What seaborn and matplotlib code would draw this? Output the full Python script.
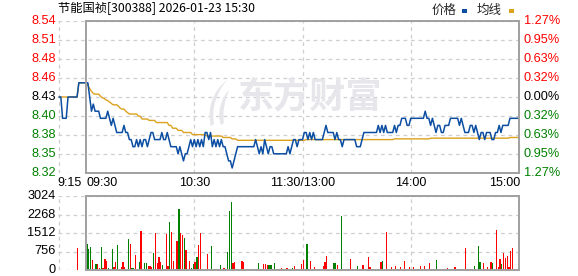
import matplotlib
matplotlib.use("Agg")
import matplotlib.pyplot as plt
from matplotlib.patches import Rectangle, PathPatch
from matplotlib.path import Path
import seaborn as sns
import numpy as np
import pandas as pd

# ---------------- data ----------------
title = "节能国祯[300388] 2026-01-23 15:30"
legend_labels = ["价格", "均线"]
base_price = 8.43
price_tick_labels = ["8.54", "8.51", "8.48", "8.46", "8.43", "8.40", "8.38", "8.35", "8.32"]
pct_tick_labels = ["1.27%", "0.95%", "0.63%", "0.32%", "0.00%", "0.32%", "0.63%", "0.95%", "1.27%"]
pct_range = 0.0127
vol_ticks = [3024, 2268, 1512, 756, 0]
time_labels = ["9:15", "09:30", "10:30", "11:30/13:00", "14:00", "15:00"]
time_minutes = [-15.56, 0, 60, 120, 180, 240]

# pre-market minutes 9:15 .. 9:29
pre_minutes = list(range(-15, 0))
pre_price = [8.43, 8.43, 8.40, 8.40, 8.40, 8.43, 8.43, 8.43, 8.43, 8.43, 8.43, 8.45, 8.45, 8.45, 8.45]
pre_avg = [8.43, 8.43, 8.43, 8.43, 8.43, 8.43, 8.43, 8.43, 8.43, 8.43, 8.43, 8.45, 8.45, 8.45, 8.45]
pre_vol_minute = [-5]
pre_vol = [885]
pre_vol_dir = "r"

# trading minutes 0..240 (09:30 .. 11:30 / 13:00 .. 15:00)
price = [
    8.45, 8.45, 8.43, 8.41, 8.42, 8.41, 8.41, 8.41, 8.40, 8.40,
    8.40, 8.40, 8.41, 8.40, 8.39, 8.40, 8.39, 8.38, 8.38, 8.38,
    8.38, 8.39, 8.38, 8.38, 8.37, 8.37, 8.36, 8.36, 8.37, 8.36,
    8.37, 8.36, 8.37, 8.37, 8.36, 8.37, 8.38, 8.38, 8.37, 8.37,
    8.37, 8.37, 8.38, 8.37, 8.37, 8.38, 8.37, 8.36, 8.36, 8.36,
    8.36, 8.35, 8.36, 8.35, 8.34, 8.35, 8.35, 8.36, 8.37, 8.36,
    8.37, 8.36, 8.37, 8.36, 8.37, 8.36, 8.38, 8.38, 8.37, 8.38,
    8.36, 8.37, 8.36, 8.37, 8.36, 8.37, 8.36, 8.36, 8.35, 8.34,
    8.34, 8.33, 8.34, 8.35, 8.36, 8.36, 8.36, 8.36, 8.36, 8.36,
    8.36, 8.36, 8.36, 8.36, 8.37, 8.36, 8.35, 8.36, 8.35, 8.37,
    8.36, 8.35, 8.36, 8.36, 8.35, 8.35, 8.35, 8.35, 8.35, 8.35,
    8.35, 8.35, 8.36, 8.35, 8.36, 8.37, 8.37, 8.36, 8.37, 8.37,
    8.37, 8.38, 8.38, 8.37, 8.38, 8.37, 8.38, 8.37, 8.37, 8.37,
    8.37, 8.37, 8.38, 8.39, 8.38, 8.38, 8.38, 8.38, 8.37, 8.38,
    8.37, 8.37, 8.36, 8.37, 8.37, 8.37, 8.37, 8.37, 8.37, 8.37,
    8.36, 8.36, 8.36, 8.37, 8.38, 8.38, 8.38, 8.38, 8.38, 8.38,
    8.38, 8.38, 8.39, 8.38, 8.39, 8.38, 8.39, 8.38, 8.38, 8.38,
    8.38, 8.39, 8.38, 8.39, 8.39, 8.40, 8.40, 8.40, 8.39, 8.39,
    8.40, 8.40, 8.40, 8.40, 8.40, 8.40, 8.40, 8.40, 8.41, 8.40,
    8.40, 8.39, 8.40, 8.39, 8.38, 8.39, 8.39, 8.38, 8.38, 8.39,
    8.39, 8.39, 8.40, 8.40, 8.40, 8.40, 8.40, 8.39, 8.40, 8.39,
    8.38, 8.38, 8.38, 8.39, 8.39, 8.38, 8.39, 8.38, 8.37, 8.38,
    8.38, 8.37, 8.38, 8.38, 8.38, 8.37, 8.37, 8.38, 8.38, 8.39,
    8.38, 8.39, 8.39, 8.39, 8.39, 8.40, 8.40, 8.40, 8.40, 8.40,
    8.40,
]
avg = ([
    8.450, 8.446, 8.442, 8.438, 8.435, 8.434, 8.434, 8.434, 8.431, 8.429,
    8.428, 8.426, 8.425, 8.423, 8.421, 8.419, 8.419, 8.419, 8.417, 8.414,
    8.413, 8.413, 8.410, 8.408, 8.406, 8.406, 8.406, 8.406, 8.406, 8.403,
    8.403, 8.399, 8.399, 8.399, 8.399, 8.397, 8.397, 8.397, 8.397, 8.394,
    8.394, 8.394, 8.394, 8.394, 8.394, 8.394, 8.390, 8.390, 8.386, 8.386,
    8.386, 8.383, 8.383, 8.383, 8.380, 8.380, 8.380, 8.380, 8.380, 8.377,
    8.377, 8.377, 8.377, 8.377, 8.377, 8.377, 8.377, 8.375, 8.375, 8.375,
    8.375, 8.375, 8.375, 8.375, 8.375, 8.375, 8.373, 8.373, 8.373, 8.373,
    8.373, 8.371, 8.371, 8.371,
] + [8.369] * 38 + [8.370] * 49 + [8.371] * 20 + [8.372] * 44 + [8.373] * 6)

volume = [
    1062, 845, 926, 409, 60, 245, 245, 68, 926, 100,
    450, 368, 80, 60, 845, 109, 340, 1021, 60, 120,
    313, 120, 60, 1267, 1062, 80, 80, 600, 60, 327,
    1594, 40, 286, 286, 163, 163, 130, 695, 1526, 272,
    545, 327, 204, 40, 1471, 163, 1975, 1553, 381, 40,
    1199, 2506, 1526, 1430, 1321, 817, 40, 368, 80, 231,
    340, 517, 1021, 1526, 60, 40, 40, 654, 60, 980,
    60, 40, 60, 60, 200, 60, 80, 60, 735, 2410,
    2779, 300, 340, 60, 60, 60, 368, 313, 60, 60,
    40, 40, 40, 60, 60, 272, 60, 60, 245, 230,
    200, 200, 200, 60, 300, 60, 60, 60, 100, 60,
    60, 100, 60, 60, 100, 163, 60, 40, 60, 245,
    409, 60, 1062, 60, 368, 60, 110, 40, 40, 40,
    40, 163, 340, 572, 40, 60, 40, 286, 286, 200,
    60, 2206, 60, 60, 40, 60, 450, 60, 60, 40,
    163, 40, 60, 200, 40, 40, 531, 130, 40, 40,
    40, 60, 40, 340, 368, 60, 1553, 40, 60, 130,
    40, 163, 40, 60, 110, 40, 368, 40, 60, 110,
    40, 110, 40, 40, 60, 163, 40, 163, 40, 60,
    286, 60, 60, 40, 409, 60, 60, 40, 60, 60,
    68, 40, 40, 60, 110, 40, 40, 60, 40, 60,
    899, 40, 40, 60, 60, 163, 40, 980, 327, 40,
    286, 40, 110, 40, 327, 286, 40, 1634, 110, 450,
    245, 695, 490, 572, 110, 776, 899, 40, 40, 60,
    531,
]
volume_dir = ("gggrrgrrgr" "rrgggrrgrr" "rrrgrggrrg" "rrggrrrgrr" "rrggrrgrrg"
              "rgrrgrrrgg" "rgrrrrrrrg" "rrrrgrrrgg" "grrrrrrrrr" "rrrrrgrrrr"
              "rggrgrrrrr" "rrrrgrrrrr" "rggrrrrrrr" "rrrrrrrggr" "rgrrrrrrrr"
              "grrrrrrrrr" "rrrrgrrrrr" "rrrrrrrrrr" "rrrrrrrrrr" "rrrrgrrrrr"
              "rrrrrrrrrr" "rrrrrgrggr" "rrrrrgrrrr" "grrrrrrrrr" "r")

# ---------------- styling ----------------
sns.set_style("white")
plt.rcParams["font.family"] = ["Liberation Sans", "Noto Sans CJK SC", "DejaVu Sans"]
CJK = ["Noto Sans CJK SC", "DejaVu Sans"]

W, H = 578, 276
fig = plt.figure(figsize=(W / 100, H / 100), dpi=100)
fig.patch.set_facecolor("white")


def rect(x0, y0, x1, y1):
    return [x0 / W, 1 - y1 / H, (x1 - x0) / W, (y1 - y0) / H]


ax = fig.add_axes(rect(58, 21, 519, 173))
axv = fig.add_axes(rect(58, 196, 519, 270))

XL = (-15.56, 240)
lo = base_price * (1 - pct_range)
hi = base_price * (1 + pct_range)
price_pos = np.linspace(hi, lo, len(price_tick_labels))

GRID = "#cfcfcf"
BOX = "#a0a0a0"
RED = "#ff0000"
GREEN = "#008000"
BLUE = "#0b4ea2"
ORANGE = "#dca11e"
WM = "#e6e6eb"

for a in (ax, axv):
    a.set_xlim(*XL)
    a.set_xticks([])
    a.set_yticks([])
    for s in a.spines.values():
        s.set_visible(False)
    a.set_facecolor("white")

ax.set_ylim(lo, hi)
axv.set_ylim(0, vol_ticks[0])

# grids
dash = (0, (3, 3))
for y in price_pos:
    ax.axhline(y, color=GRID, lw=0.9, ls=dash, zorder=0)
for y in vol_ticks:
    axv.axhline(y, color=GRID, lw=0.9, ls=dash, zorder=0)
for a in (ax, axv):
    for xm in (XL[0] + 0.3, 60, 120, 180):
        a.axvline(xm, color=GRID, lw=0.9, ls=dash, zorder=0)

# boxes over trading session
ax.add_patch(Rectangle((0, lo), 240, hi - lo, fill=False, ec=BOX, lw=1.4, zorder=5, clip_on=False))
axv.add_patch(Rectangle((0, 0), 240, vol_ticks[0], fill=False, ec=BOX, lw=1.4, zorder=5, clip_on=False))

# watermark (logo swoosh + text)
def px(x, y):
    return (x / W, 1 - y / H)

swoosh1 = [px(227, 80), px(214, 90), px(206, 108), px(211, 126),
           px(214, 124), px(211, 108), px(217, 92), px(227, 80)]
swoosh2 = [px(229, 90), px(220, 100), px(217, 114), px(221, 125),
           px(224, 123), px(222, 112), px(225, 100), px(229, 90)]
for pts in (swoosh1, swoosh2):
    codes = [Path.MOVETO, Path.CURVE4, Path.CURVE4, Path.CURVE4,
             Path.LINETO, Path.CURVE4, Path.CURVE4, Path.CURVE4]
    fig.add_artist(PathPatch(Path(pts, codes), transform=fig.transFigure,
                             fc=WM, ec="none", zorder=0.5))
ax.text(124, lo + (hi - lo) * (1 - (97 - 21) / 152), "东方财富", family=CJK, fontsize=26,
        fontweight="bold", color=WM, ha="center", va="center", zorder=1)

# lines
minutes_all = pre_minutes + list(range(len(price)))
df = pd.DataFrame({"minute": minutes_all, "price": pre_price + price, "avg": pre_avg + avg})
sns.lineplot(data=df, x="minute", y="avg", ax=ax, color=ORANGE, lw=1.0, estimator=None, zorder=3)
sns.lineplot(data=df, x="minute", y="price", ax=ax, color=BLUE, lw=1.1, estimator=None, zorder=4)
ax.set_xlabel("")
ax.set_ylabel("")
ax.set_xlim(*XL)
ax.set_ylim(lo, hi)

# volume bars
vx = pre_vol_minute + list(range(len(volume)))
vv = pre_vol + volume
vd = pre_vol_dir + volume_dir
vcol = [RED if c == "r" else GREEN for c in vd]
axv.bar(np.array(vx) + 0.45, vv, width=0.7, color=vcol, lw=0, antialiased=False, zorder=2)
axv.set_xlabel("")
axv.set_ylabel("")
axv.set_xlim(*XL)
axv.set_ylim(0, vol_ticks[0])

# left / right price labels
for i, (y, lab, pct) in enumerate(zip(price_pos, price_tick_labels, pct_tick_labels)):
    mid = len(price_pos) // 2
    col = RED if i < mid else ("black" if i == mid else GREEN)
    ax.annotate(lab, xy=(0, y), xycoords=("axes fraction", "data"), xytext=(-1.6, 0),
                textcoords="offset points", ha="right", va="center", fontsize=9.2, color=col)
    ax.annotate(pct, xy=(1, y), xycoords=("axes fraction", "data"), xytext=(3.4, 0),
                textcoords="offset points", ha="left", va="center", fontsize=9.2, color=col)

for v in vol_ticks:
    axv.annotate(str(v), xy=(0, v), xycoords=("axes fraction", "data"), xytext=(-1.6, 0),
                 textcoords="offset points", ha="right", va="center", fontsize=9.2, color="black")

# time labels
for lab, m in zip(time_labels, time_minutes):
    if lab == time_labels[0]:
        ha, dx = "left", -0.8
    elif lab == time_labels[1]:
        ha, dx = "left", 0.6
    elif lab == time_labels[-1]:
        ha, dx = "right", 1.0
    else:
        ha, dx = "center", 0
    ax.annotate(lab, xy=(m, lo), xycoords="data", xytext=(dx, -7.4), textcoords="offset points",
                ha=ha, va="center", fontsize=9, color="black", annotation_clip=False)

# title and legend
fig.text(58 / W, 1 - 9 / H, title, family=CJK, fontsize=8.8, ha="left", va="center", color="black")
fig.text(432 / W, 1 - 10 / H, legend_labels[0], family=CJK, fontsize=9, ha="left", va="center")
fig.text(477 / W, 1 - 10 / H, legend_labels[1], family=CJK, fontsize=9, ha="left", va="center")
fig.add_artist(Rectangle((462 / W, 1 - 12.5 / H), 5 / W, 3 / H, transform=fig.transFigure,
                         color=BLUE, lw=0))
fig.add_artist(Rectangle((509 / W, 1 - 12.5 / H), 5 / W, 3 / H, transform=fig.transFigure,
                         color=ORANGE, lw=0))

fig.savefig("out.png", dpi=100, facecolor="white")
